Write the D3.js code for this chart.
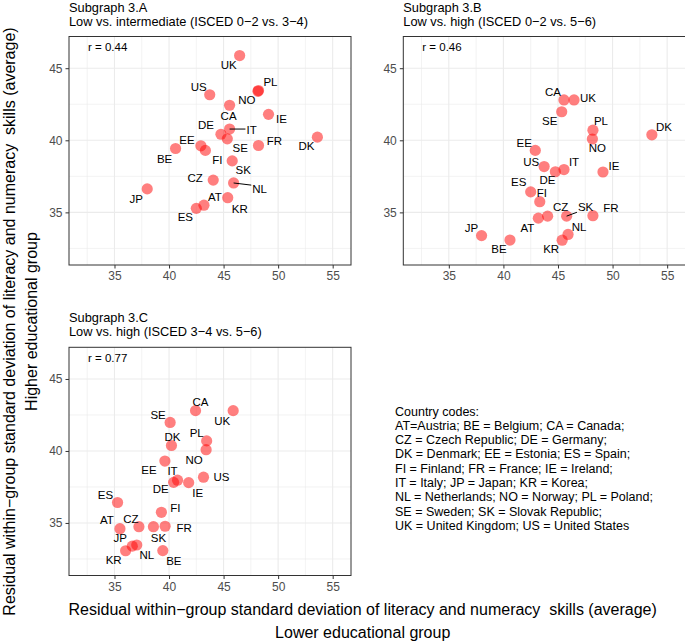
<!DOCTYPE html>
<html><head><meta charset="utf-8">
<script src="https://cdn.jsdelivr.net/npm/d3@7"></script>
<style>
body{margin:0;background:#fff;overflow:hidden;}
svg text{font-family:"Liberation Sans",Arial,Helvetica,sans-serif;white-space:pre;}
</style></head><body>
<svg id="chart" width="685" height="643"></svg>
<script>
// ---------------- data ----------------
const countries = ["AT","BE","CA","CZ","DE","DK","EE","ES","FI","FR","IE","IT","JP","KR","NL","NO","PL","SE","SK","UK","US"];
// residual within-group SD, ISCED 0-2 (low)
const lowGroup  = [43.2, 40.6, 45.55, 44.05, 44.76, 53.6, 42.92, 42.5, 43.33, 48.2, 49.12, 45.55, 38.0, 45.38, 45.92, 48.15, 48.2, 45.34, 45.79, 46.47, 43.73];
// ISCED 3-4 (intermediate)
const midGroup  = [35.5, 39.43, 42.43, 37.24, 40.42, 40.22, 39.62, 35.28, 39.3, 39.64, 41.8, 40.78, 36.63, 36.02, 37.04, 43.4, 43.45, 40.1, 38.57, 45.88, 43.16];
// ISCED 5-6 (high)
const highGroup = [34.6, 33.08, 42.8, 34.74, 37.82, 40.38, 39.3, 36.42, 35.74, 34.77, 37.8, 37.97, 33.39, 33.07, 33.47, 40.09, 40.7, 41.98, 34.74, 42.8, 38.18];

const panelTitles = ["Subgraph 3.A", "Subgraph 3.B", "Subgraph 3.C"];
const panelSubtitles = ["Low vs. intermediate (ISCED 0\u22122 vs. 3\u22124)", "Low vs. high (ISCED 0\u22122 vs. 5\u22126)", "Low vs. high (ISCED 3\u22124 vs. 5\u22126)"];
const rLabels = ["r = 0.44", "r = 0.46", "r = 0.77"];
const xTicks = [35, 40, 45, 50, 55];
const yTicks = [35, 40, 45];
const xMinor = [32.5, 37.5, 42.5, 47.5, 52.5];
const yMinor = [32.5, 37.5, 42.5];
const xTitleLines = ["Residual within\u2212group standard deviation of literacy and numeracy  skills (average)", "Lower educational group"];
const yTitleLines = ["Residual within\u2212group standard deviation of literacy and numeracy  skills (average)", "Higher educational group"];
const legendLines = [
  "Country codes:",
  "AT=Austria; BE = Belgium; CA = Canada;",
  "CZ = Czech Republic; DE = Germany;",
  "DK = Denmark; EE = Estonia; ES = Spain;",
  "FI = Finland; FR = France; IE = Ireland;",
  "IT = Italy; JP = Japan; KR = Korea;",
  "NL = Netherlands; NO = Norway; PL = Poland;",
  "SE = Sweden; SK = Slovak Republic;",
  "UK = United Kingdom; US = United States"
];

// ---------------- layout / styling ----------------
const panels = [
  {x: lowGroup, y: midGroup,  box: {x0: 69,    x1: 351,   y0: 36.5,  y1: 265}},
  {x: lowGroup, y: highGroup, box: {x0: 403.3, x1: 685.5, y0: 36.5,  y1: 265}},
  {x: midGroup, y: highGroup, box: {x0: 69,    x1: 351,   y0: 347.3, y1: 575.5}}
];
const xDomain = [30.83, 56.68];
const yDomain = [31.35, 47.2];

// label nudges (px) for the repelled country labels
const labelNudges = [
  {UK:[-11,9], PL:[12,-9], NO:[-11,9], US:[-11,-8], CA:[-1,11], IE:[13,5], DE:[-15,-9], IT:[22,1], EE:[-14,-6], SE:[13,9], FR:[16,-5], DK:[-11,9], BE:[-11,10], FI:[12,9], SK:[11,9], CZ:[-18,-2], NL:[26,6], JP:[-11,10], AT:[11,-8], KR:[12,11], ES:[-11,9]},
  {CA:[-11,-8], UK:[14,-2], SE:[-12,9], PL:[8,-9], NO:[5,9], DK:[12,-8], EE:[-11,-8], US:[-13,-5], DE:[-8,8], IT:[10,-8], IE:[11,-6], ES:[-12,-10], FI:[2,-9], CZ:[13,-9], SK:[19,-9], FR:[18,-8], AT:[-11,10], NL:[11,-8], KR:[-11,9], JP:[-10,-8], BE:[-11,9]},
  {CA:[5,-9], UK:[-11,10], SE:[-12,-8], PL:[-10,-8], NO:[-12,10], DK:[1,-9], EE:[-16,9], IT:[-5,-9], DE:[-13,7], IE:[9,10], US:[18,0], ES:[-12,-8], FI:[14,-4], AT:[-13,-9], CZ:[-8,-8], SK:[5,11], FR:[19,2], JP:[-12,-8], NL:[10,10], KR:[-12,9], BE:[11,10]}
];
const segmentLabels = [["IT","NL"], ["SK"], []];

const svg = d3.select("#chart");
const gridCol = "#EBEBEB", borderCol = "#333333", tickTextCol = "#4D4D4D";

panels.forEach((p, i) => {
  const b = p.box;
  const xs = d3.scaleLinear().domain(xDomain).range([b.x0, b.x1]);
  const ys = d3.scaleLinear().domain(yDomain).range([b.y1, b.y0]);
  const g = svg.append("g");

  // titles
  g.append("text").attr("x", b.x0).attr("y", b.y0 - 25).attr("font-size", 12.8).text(panelTitles[i]);
  g.append("text").attr("x", b.x0).attr("y", b.y0 - 11).attr("font-size", 12.8).text(panelSubtitles[i]);

  // grid
  const grid = g.append("g");
  grid.selectAll(".vmin").data(xMinor).join("line")
    .attr("x1", d => xs(d)).attr("x2", d => xs(d)).attr("y1", b.y0).attr("y2", b.y1)
    .attr("stroke", gridCol).attr("stroke-width", 0.6);
  grid.selectAll(".hmin").data(yMinor).join("line").attr("class","hmin")
    .attr("y1", d => ys(d)).attr("y2", d => ys(d)).attr("x1", b.x0).attr("x2", b.x1)
    .attr("stroke", gridCol).attr("stroke-width", 0.6);
  grid.selectAll(".vmaj").data(xTicks).join("line").attr("class","vmaj")
    .attr("x1", d => xs(d)).attr("x2", d => xs(d)).attr("y1", b.y0).attr("y2", b.y1)
    .attr("stroke", gridCol).attr("stroke-width", 1.1);
  grid.selectAll(".hmaj").data(yTicks).join("line").attr("class","hmaj")
    .attr("y1", d => ys(d)).attr("y2", d => ys(d)).attr("x1", b.x0).attr("x2", b.x1)
    .attr("stroke", gridCol).attr("stroke-width", 1.1);

  // axes
  const xAxis = d3.axisBottom(xs).tickValues(xTicks).tickSize(3.5).tickPadding(3);
  const yAxis = d3.axisLeft(ys).tickValues(yTicks).tickSize(3.5).tickPadding(3);
  const gx = g.append("g").attr("transform", `translate(0,${b.y1})`).call(xAxis);
  const gy = g.append("g").attr("transform", `translate(${b.x0},0)`).call(yAxis);
  [gx, gy].forEach(a => {
    a.select(".domain").remove();
    a.selectAll(".tick line").attr("stroke", borderCol).attr("stroke-width", 1);
    a.selectAll(".tick text").attr("fill", tickTextCol).attr("font-size", 12)
      .attr("font-family", "Liberation Sans, Arial, sans-serif");
  });

  // points
  const data = countries.map((c, k) => ({c, x: p.x[k], y: p.y[k]}));
  g.append("g").selectAll("circle").data(data).join("circle")
    .attr("cx", d => xs(d.x)).attr("cy", d => ys(d.y)).attr("r", 5.6)
    .attr("fill", "#FF0000").attr("fill-opacity", 0.5);

  // labels
  const lg = g.append("g");
  const segG = g.append("g");
  data.forEach(d => {
    const n = labelNudges[i][d.c] || [0, -10];
    const px = xs(d.x), py = ys(d.y);
    const t = lg.append("text").attr("x", px + n[0]).attr("y", py + n[1]).attr("dy", "0.36em")
      .attr("text-anchor", "middle").attr("font-size", 11.5).attr("fill", "#000").text(d.c);
    if (segmentLabels[i].includes(d.c)) {
      const bb = t.node().getBBox();
      const pad = 1;
      const ex = Math.max(bb.x - pad, Math.min(px, bb.x + bb.width + pad));
      const ey = Math.max(bb.y + 2, Math.min(py, bb.y + bb.height - 1));
      segG.append("line").attr("x1", px).attr("y1", py).attr("x2", ex).attr("y2", ey)
        .attr("stroke", "#000").attr("stroke-width", 1);
    }
  });

  // r label
  g.append("text").attr("x", b.x0 + 19).attr("y", b.y0 + 10.5).attr("dy", "0.36em")
    .attr("font-size", 11.5).text(rLabels[i]);

  // border
  g.append("rect").attr("x", b.x0).attr("y", b.y0).attr("width", b.x1 - b.x0).attr("height", b.y1 - b.y0)
    .attr("fill", "none").attr("stroke", borderCol).attr("stroke-width", 1);
});

// axis titles
svg.selectAll(".xt").data(xTitleLines).join("text")
  .attr("x", 362.7).attr("y", (d, k) => 609 + k * 23.5).attr("dy", "0.36em")
  .attr("text-anchor", "middle").attr("font-size", 16).attr("fill", "#000").text(d => d);
svg.selectAll(".yt").data(yTitleLines).join("text")
  .attr("transform", (d, k) => `translate(${9 + k * 22.5},321.5) rotate(-90)`).attr("dy", "0.36em")
  .attr("text-anchor", "middle").attr("font-size", 16).attr("fill", "#000").text(d => d);

// legend
svg.append("g").selectAll("text").data(legendLines).join("text")
  .attr("x", 395).attr("y", (d, k) => 411 + k * 14.3).attr("dy", "0.36em")
  .attr("font-size", 12.5).attr("fill", "#000").text(d => d);
</script>
</body></html>
